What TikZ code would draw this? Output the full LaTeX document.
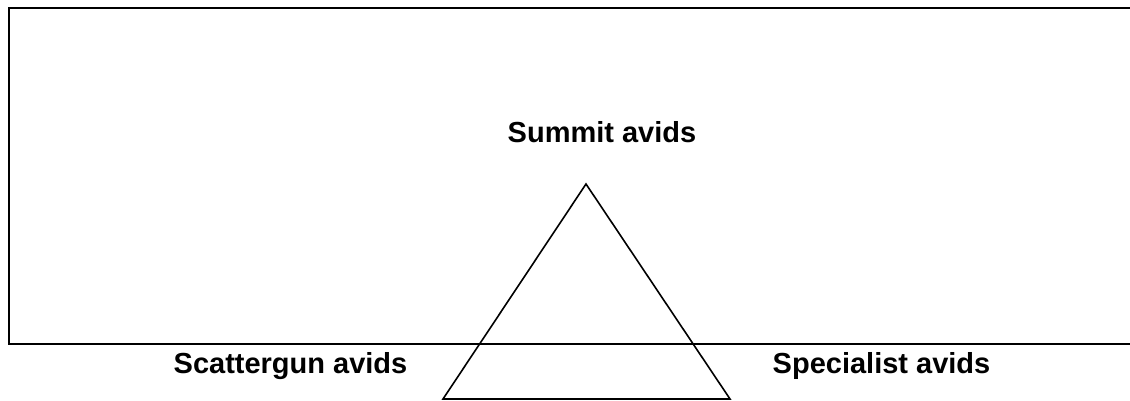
\documentclass[tikz,border=0pt]{standalone}
\usepackage{fontspec}
\setmainfont{Liberation Sans}
\begin{document}
\begin{tikzpicture}[x=1pt,y=1pt,
  lbl/.style={font=\fontsize{29}{32}\selectfont\bfseries, anchor=base, inner sep=0pt},
  frame/.style={draw=black, line width=2.4pt},
  tri/.style={draw=black, line width=1.6pt, line join=miter}]
\useasboundingbox (0,0) rectangle (1130,400);
\begin{scope}
\clip (0,0) rectangle (1130,400);
\draw[frame] (9,392) rectangle (1140,56);
\end{scope}
\coordinate (apex) at (586,216);
\coordinate (bl) at (443,1);
\coordinate (br) at (730,1);
\draw[tri] (apex) -- (bl) -- (br) -- cycle;
\node[lbl] (summit) at (602,258) {Summit avids};
\node[lbl] (scatter) at (290.5,27) {Scattergun avids};
\node[lbl] (special) at (881.5,27) {Specialist avids};
\end{tikzpicture}
\end{document}
